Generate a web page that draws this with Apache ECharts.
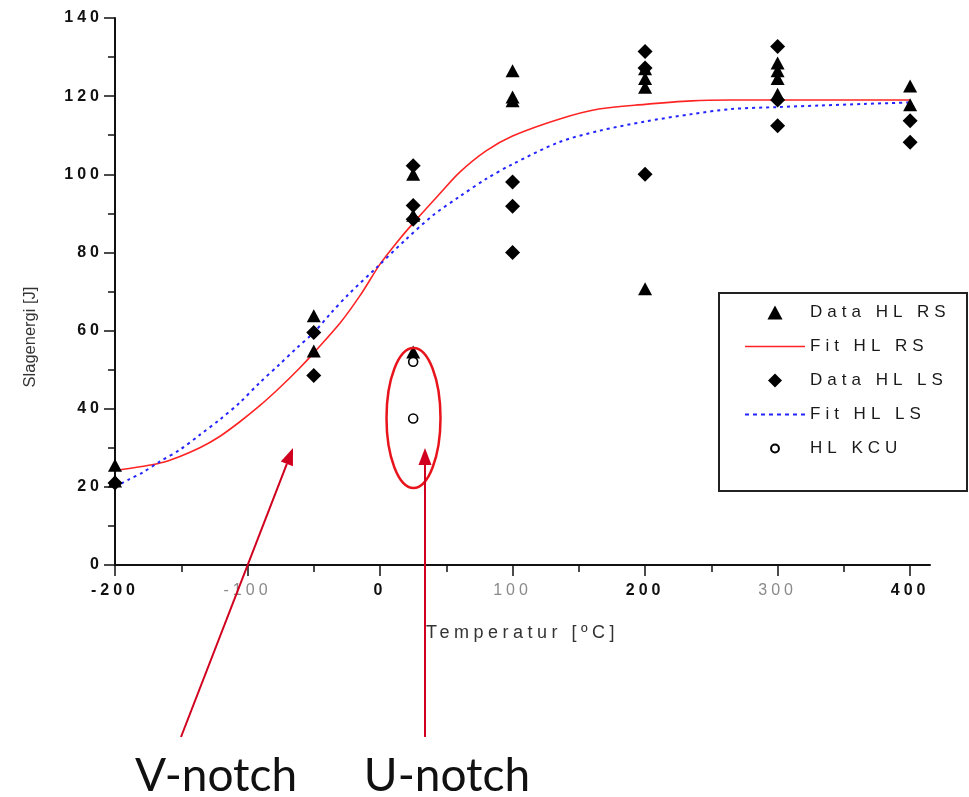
<!DOCTYPE html>
<html><head><meta charset="utf-8">
<script src="https://cdn.jsdelivr.net/npm/echarts@6/dist/echarts.min.js"></script>
<style>html,body{margin:0;padding:0;background:#fff}#c{width:969px;height:797px}</style>
</head><body><div id="c"></div>
<script>
// Origin-style letter spacing for some text sizes
(function(){
  const P = CanvasRenderingContext2D.prototype;
  if (!('letterSpacing' in P)) return;
  const rules = [[/(^|\s)16px/, '4px'], [/(^|\s)17px/, '5px'], [/(^|\s)18px/, '4.5px']];
  function ls(ctx){ const f = ctx.font; let v = '0px'; for (const r of rules) { if (r[0].test(f)) { v = r[1]; break; } } ctx.letterSpacing = v; }
  const ft = P.fillText, st = P.strokeText;
  P.fillText = function(){ ls(this); return ft.apply(this, arguments); };
  P.strokeText = function(){ ls(this); return st.apply(this, arguments); };
})();

const xMajorTicks = [-200, -100, 0, 100, 200, 300, 400];
const xMinorTicks = [-150, -50, 50, 150, 250, 350];
const xDarkLabels = [-200, 0, 200, 400];

const dataHLRS = [[-200,25.5],[-200,21.5],[-50,63.8],[-50,54.8],[25,100],[25,89.5],[25,54.5],
  [100,126.5],[100,119.8],[100,118.8],[200,127],[200,124.5],[200,122.3],[200,70.7],
  [300,128.5],[300,126.5],[300,124.5],[300,120.5],[400,122.6],[400,117.8]];
const dataHLLS = [[-200,21],[-50,59.5],[-50,48.5],[25,102.2],[25,92],[25,88.5],[100,98],[100,91.8],[100,80],
  [200,131.4],[200,127.2],[200,100],[300,132.7],[300,119],[300,112.4],[400,113.7],[400,108.2]];
const dataHLKCU = [[25,52],[25,37.5]];

const fitHLRS = [[-200,24.2],[-180,25.2],[-166,26.1],[-151,27.8],[-136,30],[-121,32.9],[-106,36.6],[-91,40.7],
  [-76,45.3],[-61,50.3],[-50,54.3],[-30,62],[-15,69],[0,77],[12.5,82.5],[25,87.5],[45,95],[60,100.5],
  [80,106],[100,109.8],[135,114.1],[165,116.7],[200,117.9],[235,118.8],[265,119],[300,119],[350,119],[400,119]];
const fitHLLS = [[-200,20],[-190,21.8],[-179,23.7],[-166,26.5],[-151,29.5],[-136,33.3],[-121,37.2],[-106,41.5],
  [-91,46.6],[-76,51.3],[-63,55.5],[-50,59.5],[-37,64.5],[-24,69.2],[-3,76],[18.5,83],[40,89.5],[60,94.3],
  [80,98.8],[100,102.6],[135,108.2],[165,111.1],[200,113.5],[235,115.4],[265,116.7],[300,117.2],[332,117.6],[365,118],[400,118.4]];

const kcuSymbol = 'path://M0 0h0M100 100h0M50 22A28 28 0 1 1 50 78A28 28 0 1 1 50 22Z';
const triIcon = 'path://M7 0L14 13H0Z';
const diaIcon = 'path://M7.5 0L15 7.5L7.5 15L0 7.5Z';
const solidIcon = 'path://M0 0H60V1.6H0Z';
let dotIcon = 'path://';
for (let i = 0; i < 8; i++) dotIcon += 'M' + (i * 8) + ' 0h4v2h-4Z';

const FONT = 'Liberation Sans';
const AX = '#111';

function arrowHead(tx, ty, fx, fy, len, half){
  const dx = tx - fx, dy = ty - fy, L = Math.hypot(dx, dy), ux = dx / L, uy = dy / L;
  const bx = tx - ux * len, by = ty - uy * len;
  return {base: [bx, by], pts: [[tx, ty], [bx - uy * half, by + ux * half], [bx + uy * half, by - ux * half]]};
}
const vA = arrowHead(293, 448, 181, 737, 17, 6.5);
const uA = arrowHead(425, 448, 425, 737, 17, 6.5);
const ARROW = '#d0001e';

const chart = echarts.init(document.getElementById('c'), null, {renderer: 'canvas'});
chart.setOption({
  animation: false,
  backgroundColor: '#fff',
  grid: {left: 115, right: 39, top: 18, bottom: 232, containLabel: false},
  xAxis: [{
    type: 'value', min: -200, max: 415,
    name: 'Temperatur [ºC]', nameLocation: 'middle', nameGap: 59,
    nameTextStyle: {fontSize: 18, color: '#333', fontFamily: FONT},
    axisLine: {show: true, onZero: false, lineStyle: {color: AX, width: 2}},
    axisTick: {show: true, length: 11, customValues: xMajorTicks, lineStyle: {color: AX, width: 1.5}},
    axisLabel: {show: true, customValues: xMajorTicks, margin: 18,
      formatter: v => (xDarkLabels.indexOf(v) >= 0 ? '{a|' + v + '}' : '{b|' + v + '}'),
      rich: {
        a: {fontSize: 16, fontWeight: 'bold', color: '#111', fontFamily: FONT, align: 'center'},
        b: {fontSize: 16, fontWeight: 'normal', color: '#8a8a8a', fontFamily: FONT, align: 'center'}
      }},
    splitLine: {show: false}
  }, {
    type: 'value', min: -200, max: 415, position: 'bottom',
    axisLine: {show: false, onZero: false},
    axisTick: {show: true, length: 7, customValues: xMinorTicks, lineStyle: {color: AX, width: 1.5}},
    axisLabel: {show: false},
    splitLine: {show: false}
  }],
  yAxis: {
    type: 'value', min: 0, max: 140, interval: 20,
    name: 'Slagenergi [J]', nameLocation: 'middle', nameGap: 76,
    nameTextStyle: {fontSize: 16.5, color: '#333', fontFamily: FONT, padding: [0, 91, 0, 0]},
    axisLine: {show: true, onZero: false, lineStyle: {color: AX, width: 2}},
    axisTick: {show: true, length: 11, lineStyle: {color: AX, width: 1.5}},
    minorTick: {show: true, splitNumber: 2, length: 7, lineStyle: {color: AX, width: 1.5}},
    axisLabel: {fontSize: 16, fontWeight: 'bold', color: '#111', fontFamily: FONT, margin: 12},
    splitLine: {show: false}, minorSplitLine: {show: false}
  },
  legend: {
    orient: 'vertical', left: 745, top: 304, padding: 0,
    itemWidth: 60, itemHeight: 14, itemGap: 17, symbolKeepAspect: true,
    textStyle: {fontSize: 17, color: '#1a1a1a', fontFamily: FONT},
    data: [
      {name: 'Data HL RS', icon: triIcon},
      {name: 'Fit HL RS', icon: solidIcon},
      {name: 'Data HL LS', icon: diaIcon},
      {name: 'Fit HL LS', icon: dotIcon},
      {name: 'HL KCU', icon: kcuSymbol}
    ]
  },
  series: [
    {name: 'Data HL RS', type: 'scatter', symbol: 'triangle', symbolSize: [14, 13], z: 4,
      itemStyle: {color: '#000', opacity: 1}, data: dataHLRS},
    {name: 'Fit HL RS', type: 'line', symbol: 'none', showSymbol: false, smooth: 0.3, z: 3,
      lineStyle: {color: '#ff2424', width: 1.6}, itemStyle: {color: '#ff2424'}, data: fitHLRS},
    {name: 'Data HL LS', type: 'scatter', symbol: 'diamond', symbolSize: [15, 15], z: 4,
      itemStyle: {color: '#000', opacity: 1}, data: dataHLLS},
    {name: 'Fit HL LS', type: 'line', symbol: 'none', showSymbol: false, smooth: 0.3, z: 3,
      lineStyle: {color: '#2424ff', width: 2, type: [3, 4]}, itemStyle: {color: '#2424ff'}, data: fitHLLS},
    {name: 'HL KCU', type: 'scatter', symbol: kcuSymbol, symbolSize: 16, z: 5,
      itemStyle: {color: '#fff', borderColor: '#000', borderWidth: 1.6, opacity: 1}, data: dataHLKCU}
  ],
  graphic: [
    {type: 'rect', z: 1, shape: {x: 719, y: 293, width: 248, height: 198},
      style: {fill: '#fff', stroke: '#222', lineWidth: 2}},
    {type: 'ellipse', z: 100, shape: {cx: 413.5, cy: 418, rx: 27, ry: 70},
      style: {fill: 'none', stroke: '#e8141c', lineWidth: 2.5}},
    {type: 'line', z: 100, shape: {x1: 181, y1: 737, x2: vA.base[0], y2: vA.base[1]},
      style: {stroke: ARROW, lineWidth: 2}},
    {type: 'polygon', z: 100, shape: {points: vA.pts}, style: {fill: ARROW}},
    {type: 'line', z: 100, shape: {x1: 425, y1: 737, x2: uA.base[0], y2: uA.base[1]},
      style: {stroke: ARROW, lineWidth: 2}},
    {type: 'polygon', z: 100, shape: {points: uA.pts}, style: {fill: ARROW}},
    {type: 'text', z: 100, x: 216, y: 776,
      style: {text: 'V-notch', fontSize: 46, fontFamily: 'Lato', fill: '#111', align: 'center', verticalAlign: 'middle'}},
    {type: 'text', z: 100, x: 447, y: 776,
      style: {text: 'U-notch', fontSize: 46, fontFamily: 'Lato', fill: '#111', align: 'center', verticalAlign: 'middle'}}
  ]
});
</script>
</body></html>
